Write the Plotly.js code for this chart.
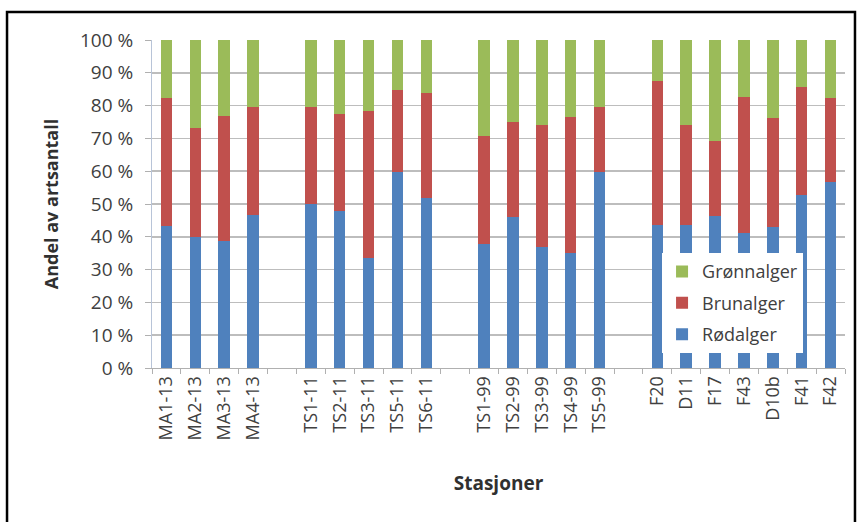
<!DOCTYPE html>
<html>
<head>
<meta charset="utf-8">
<script src="https://cdn.plot.ly/plotly-3.0.1.min.js"></script>
<style>
html,body{margin:0;padding:0;background:#fff;}
#chart{width:858px;height:522px;}
</style>
</head>
<body>
<div id="chart"></div>
<script>
// Stations (blank entries are the gaps between station groups)
var stations = ["MA1-13","MA2-13","MA3-13","MA4-13"," ",
  "TS1-11","TS2-11","TS3-11","TS5-11","TS6-11","  ",
  "TS1-99","TS2-99","TS3-99","TS4-99","TS5-99","   ",
  "F20","D11","F17","F43","D10b","F41","F42"];

// Share of species count (%)
var rodalger   = [43.3,40.0,38.8,46.6,null, 50.0,47.9,33.4,59.9,51.7,null, 37.7,46.1,37.0,35.2,59.9,null, 43.6,43.6,46.3,41.3,43.1,52.7,56.8];
var brunalger  = [38.9,33.1,38.0,32.9,null, 29.5,29.5,45.1,24.9,32.2,null, 33.0,29.0,37.1,41.2,19.6,null, 44.0,30.5,23.0,41.2,33.0,32.9,25.4];
var gronnalger = [17.8,26.9,23.2,20.5,null, 20.5,22.6,21.5,15.2,16.1,null, 29.3,24.9,25.9,23.6,20.5,null, 12.4,25.9,30.7,17.5,23.9,14.4,17.8];

var yTickVals = [0,10,20,30,40,50,60,70,80,90,100];
var yTickText = ["0 %","10 %","20 %","30 %","40 %","50 %","60 %","70 %","80 %","90 %","100 %"];

var seriesNames = ["Rødalger","Brunalger","Grønnalger"];
var seriesColors = ["#4f81bd","#c0504d","#9bbb59"];
var seriesValues = [rodalger, brunalger, gronnalger];

var traces = seriesValues.map(function(v,i){
  return {type:"bar", x:stations, y:v, name:seriesNames[i],
    legendgroup:"g"+i, legendrank:3-i, marker:{color:seriesColors[i], line:{width:0}}};
});

var fnt = "Open Sans, Liberation Sans, sans-serif";
var layout = {
  width:858, height:522,
  margin:{l:152, r:13, t:40, b:154},
  paper_bgcolor:"#ffffff", plot_bgcolor:"#ffffff",
  barmode:"stack", bargap:0.6,
  showlegend:true,
  legend:{traceorder:"grouped", x:0.736, y:0.35, xanchor:"left", yanchor:"top",
    bgcolor:"#ffffff", borderwidth:0, tracegroupgap:5,
    font:{family:fnt, size:18, color:"#404040"}},
  font:{family:fnt, color:"#404040"},
  xaxis:{type:"category", categoryorder:"array", categoryarray:stations,
    tickangle:-90, tickfont:{family:fnt, size:18, color:"#404040"},
    ticks:"outside", tickson:"boundaries", ticklen:5, tickcolor:"#b0b0b0",
    showline:true, linecolor:"#b0b0b0", linewidth:1, showgrid:false,
    range:[-0.5, 23.5],
    title:{text:"Stasjoner", font:{family:fnt, size:19, color:"#303030", weight:"bold"}, standoff:37}},
  yaxis:{range:[0,100], tickvals:yTickVals, ticktext:yTickText,
    tickfont:{family:fnt, size:19, color:"#404040"},
    ticks:"outside", ticklen:6, tickcolor:"#b0b0b0",
    showline:true, linecolor:"#b8c4d8", linewidth:1,
    showgrid:true, gridcolor:"#bdbdbd", gridwidth:1.5,
    zeroline:false, ticklabelstandoff:8,
    title:{text:"Andel av artsantall", font:{family:fnt, size:18, color:"#303030", weight:"bold"}, standoff:16}},
  shapes:[{type:"rect", xref:"paper", yref:"paper", x0:-0.2092, x1:1.0144, y0:-0.7, y1:1.0854,
    line:{color:"#000000", width:2.5}, fillcolor:"rgba(0,0,0,0)", layer:"above"}]
};

Plotly.newPlot("chart", traces, layout, {displayModeBar:false, staticPlot:true});
</script>
</body>
</html>
